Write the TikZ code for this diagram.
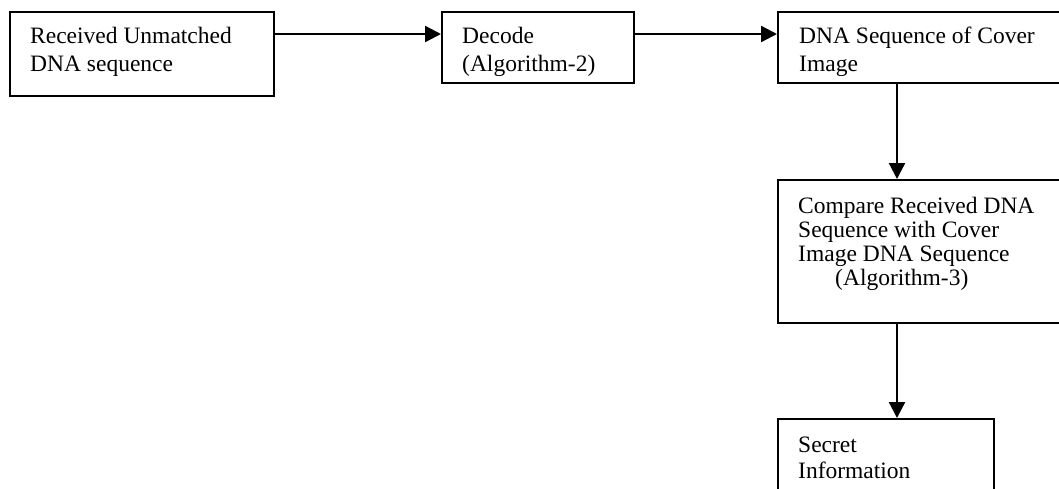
\documentclass[tikz,border=0pt]{standalone}
\usepackage{fontspec}
\setmainfont{Liberation Serif}
\usetikzlibrary{arrows.meta,calc}
\tikzset{
  box/.style={draw, line width=1.9pt, anchor=north west, inner sep=0pt, minimum width=#1},
  box/.default=100pt,
  lbl/.style={anchor=base west, inner sep=0pt, align=left},
  flow/.style={line width=2.3pt, -{Triangle[length=16pt,width=16pt]}},
}
\begin{document}
\begin{tikzpicture}[x=1pt,y=1pt]
\useasboundingbox (0,0) rectangle (1059,-488);
\clip (0,0) rectangle (1059,-488);
% boxes
\node[box=264pt, minimum height=84pt] (b1) at (9,-11) {};
\node[box=192pt, minimum height=71pt] (b2) at (441,-11) {};
\node[box=300pt, minimum height=71pt] (b3) at (777,-11) {};
\node[box=300pt, minimum height=143pt] (b4) at (777,-179) {};
\node[box=216pt, minimum height=100pt] (b5) at (777,-418) {};
% texts (base anchor = baseline of last line)
\node[lbl, font=\fontsize{23.5}{28.5}\selectfont] (t1) at ($(b1.north west)+(21,-60.5)$)
  {Received Unmatched\\DNA sequence};
\begin{scope}
\clip ($(b2.north west)$) rectangle ($(b2.south east)+(0,8.5)$);
\node[lbl, font=\fontsize{23.5}{28.5}\selectfont] (t2) at ($(b2.north west)+(21,-60.5)$)
  {Decode\\(Algorithm-2)};
\end{scope}
\begin{scope}
\clip ($(b3.north west)$) rectangle ($(b3.south east)+(0,8.5)$);
\node[lbl, font=\fontsize{23.5}{28.5}\selectfont] (t3) at ($(b3.north west)+(22,-60.5)$)
  {DNA Sequence of Cover\\Image};
\end{scope}
\node[lbl, font=\fontsize{23.5}{24}\selectfont] (t4) at ($(b4.north west)+(21,-106)$)
  {Compare Received DNA\\Sequence with Cover\\Image DNA Sequence\\\hspace*{37pt}(Algorithm-3)};
\node[lbl, font=\fontsize{23.5}{26}\selectfont] (t5) at ($(b5.north west)+(21,-60)$)
  {Secret\\Information};
% connectors
\draw[flow] ($(b1.north east)+(0,-23)$) -- ($(b2.north west)+(0,-23)$);
\draw[flow] ($(b2.north east)+(0,-23)$) -- ($(b3.north west)+(0,-23)$);
\draw[flow] ($(b3.south west)+(120,0)$) -- ($(b4.north west)+(120,0)$);
\draw[flow] ($(b4.south west)+(120,0)$) -- ($(b5.north west)+(120,0)$);
\end{tikzpicture}
\end{document}
